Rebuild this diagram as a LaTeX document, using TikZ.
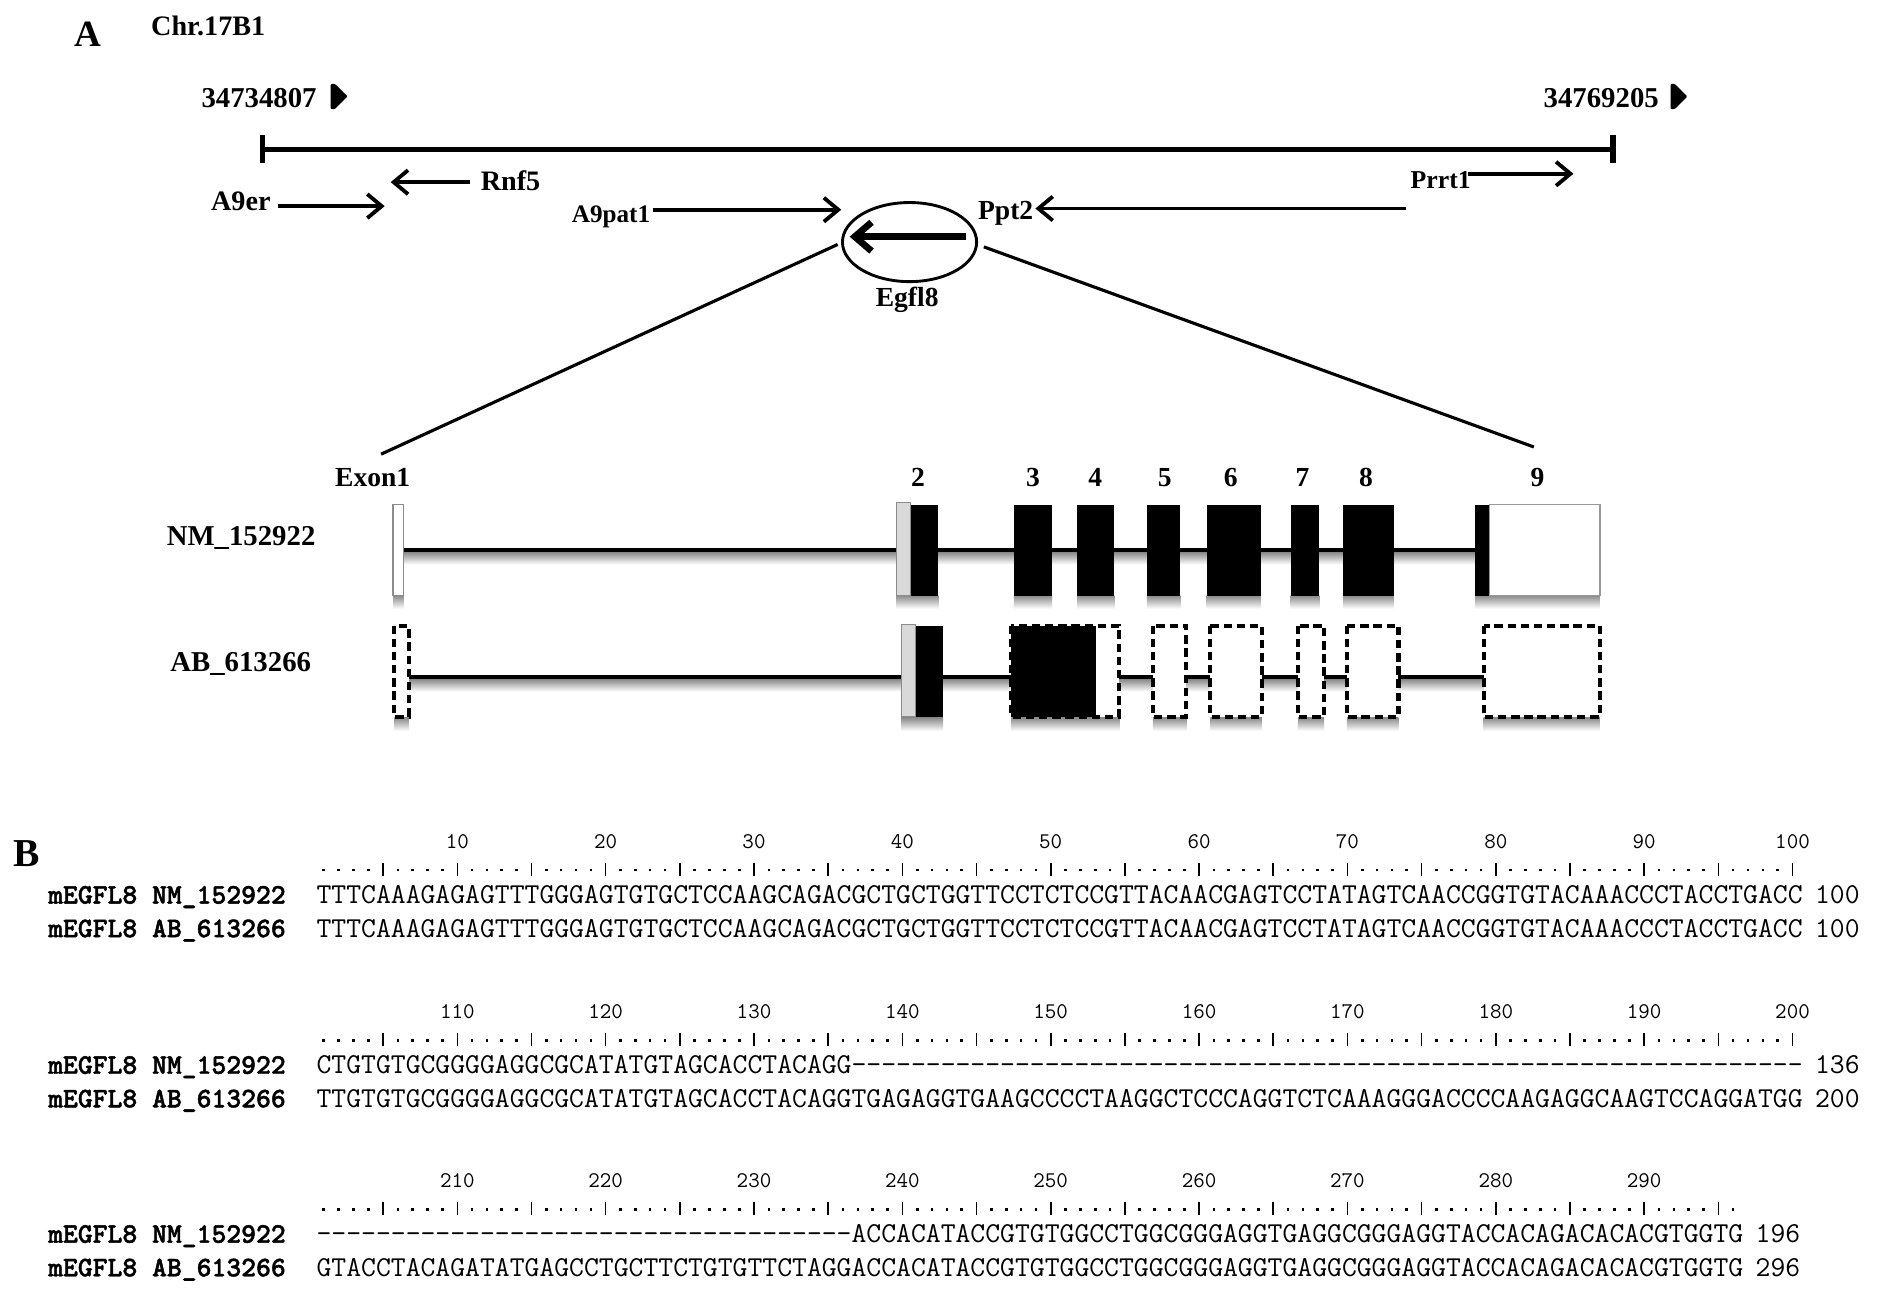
\documentclass[tikz,border=0pt]{standalone}
\usepackage{fontspec}
\setmainfont{Liberation Serif}
\newfontfamily\labmono{lmmonolt10-bold.otf}[FakeBold=1.6]
\ExplSyntaxOn
\cs_new:Npn \seqrep #1#2 { \prg_replicate:nn {#1} {#2} }
\ExplSyntaxOff
\usetikzlibrary{arrows.meta,shapes.geometric}
\tikzset{
  lab/.style={inner sep=0pt, font=\fontsize{#1}{#1}\selectfont\bfseries},
  lab/.default=24,
  gene/.style={line width=3.2pt, -{Straight Barb[length=12pt,width=20pt]}},
  chrom/.style={line width=4.5pt},
  zoomline/.style={line width=2.6pt},
  intron/.style={line width=4pt},
  exblack/.style={fill=black},
  exdash/.style={draw=black, fill=white, line width=3.4pt, dash pattern=on 7pt off 4pt},
  shad/.style={top color=black!45, bottom color=white, draw=none},
  seq/.style={inner sep=0pt, font=\fontsize{24.08}{26}\ttfamily},
  seqlab/.style={inner sep=0pt, font=\fontsize{23.6}{26}\labmono},
  rnum/.style={inner sep=0pt, font=\fontsize{18.67}{20}\ttfamily},
  flag/.style={fill=black, rounded corners=0.8pt},
}
\newcommand\gapdash{-\kern0pt}
\begin{document}
\begin{tikzpicture}[x=1pt,y=-1pt]
\useasboundingbox[fill=white] (0,0) rectangle (1568,1088);

% ---------------- Panel A ----------------
\node[lab=31, anchor=base west] (pA) at (62,39) {A};
\node[lab=23.5, anchor=base west] (chr) at (126,30) {Chr.17B1};
\node[lab=24, anchor=base west] (pstart) at (168,90) {34734807};
\fill[flag] (276,70) -- (279.5,70) -- (290,80.5) -- (279.5,91) -- (276,91) -- cycle;
\node[lab=24, anchor=base west] (pend) at (1288,90) {34769205};
\fill[flag] (1394,70) -- (1397.5,70) -- (1408,80.5) -- (1397.5,91) -- (1394,91) -- cycle;

\coordinate (cl) at (219,124.5);
\coordinate (cr) at (1346,124.5);
\draw[chrom] (cl) -- (cr);
\draw[chrom] (219,113) -- (219,136);
\draw[chrom] (1346,113) -- (1346,136);

\node[lab=23.5, anchor=base west] (a9er) at (176,176) {A9er};
\coordinate (a9erS) at (232,172); \coordinate (a9erE) at (321,172);
\draw[gene] (a9erS) -- (a9erE);

\node[lab=23.5, anchor=base west] (rnf5) at (401,159) {Rnf5};
\coordinate (rnf5S) at (392,152); \coordinate (rnf5E) at (326,152);
\draw[gene] (rnf5S) -- (rnf5E);

\node[lab=21, anchor=base west] (a9pat1) at (477,186) {A9pat1};
\coordinate (a9patS) at (545,175); \coordinate (a9patE) at (702,175);
\draw[gene] (a9patS) -- (a9patE);

\node[lab=23, anchor=base west] (ppt2) at (816,183) {Ppt2};
\coordinate (ppt2S) at (1173,174); \coordinate (ppt2E) at (864,174);
\draw[gene] (ppt2S) -- (ppt2E);

\node[lab=21.5, anchor=base west] (prrt1) at (1177,157) {Prrt1};
\coordinate (prrtS) at (1225,145); \coordinate (prrtE) at (1313,145);
\draw[gene] (prrtS) -- (prrtE);

\node[draw, ellipse, line width=2.4pt, minimum width=112pt, minimum height=66pt, inner sep=0pt] (egc) at (759,202) {};
\coordinate (egS) at (806,197.5); \coordinate (egE) at (709,197.5);
\draw[line width=5.6pt, -{Straight Barb[length=14pt,width=24pt]}] (egS) -- (egE);
\node[lab=23, anchor=base] (egfl8) at (757,256) {Egfl8};

\coordinate (zl1) at (699,204); \coordinate (zl2) at (318,379);
\coordinate (zr1) at (821,206); \coordinate (zr2) at (1280,373);
\draw[zoomline] (zl1) -- (zl2);
\draw[zoomline] (zr1) -- (zr2);

% exon labels
\node[lab=23, anchor=base] (e1) at (311,406) {Exon1};
\node[lab=23, anchor=base] (e2) at (766,406) {2};
\node[lab=23, anchor=base] (e3) at (862,406) {3};
\node[lab=23, anchor=base] (e4) at (914,406) {4};
\node[lab=23, anchor=base] (e5) at (972,406) {5};
\node[lab=23, anchor=base] (e6) at (1027,406) {6};
\node[lab=23, anchor=base] (e7) at (1087,406) {7};
\node[lab=23, anchor=base] (e8) at (1140,406) {8};
\node[lab=23, anchor=base] (e9) at (1283,406) {9};

\node[lab=24, anchor=base west] (nmlab) at (139,455) {NM\_152922};
\node[lab=24, anchor=base west] (ablab) at (142,560) {AB\_613266};

% row 1 shadows
\shade[shad] (337,461) rectangle (1231,471);
\foreach \a/\b in {328/337,748/783,846/878,899/930,957/985,1007/1052,1077/1101,1121/1163,1231/1335}
  \shade[shad] (\a,497) rectangle (\b,508);
% row 1 intron line
\draw[intron] (337,459) -- (1231,459);
% row 1 exons
\filldraw[fill=white, draw=black!45, line width=1pt] (328,421) rectangle (337,497);
\filldraw[fill=black!15, draw=black!45, line width=1pt] (748,419) rectangle (760,497);
\fill[exblack] (760,421) rectangle (783,497);
\foreach \a/\b in {846/878,899/930,957/985,1007/1052,1077/1101,1121/1163}
  \fill[exblack] (\a,421) rectangle (\b,497);
\fill[exblack] (1231,421) rectangle (1243,497);
\filldraw[fill=white, draw=black!40, line width=1.2pt] (1243,421) rectangle (1335,497);

% row 2 shadows
\shade[shad] (341,567) rectangle (1238,577);
\foreach \a/\b in {329/341,752/787,844/934,962/990,1010/1053,1083/1105,1124/1167,1238/1335}
  \shade[shad] (\a,599) rectangle (\b,610);
% row 2 intron line
\draw[intron] (341,565) -- (1238,565);
% row 2 exons
\path[exdash] (329,522) rectangle (341,598);
\filldraw[fill=black!15, draw=black!45, line width=1pt] (752,521) rectangle (764,598);
\fill[exblack] (764,522) rectangle (787,598);
\path[exdash] (844,522) rectangle (934,598);
\fill[exblack] (844,522) rectangle (915,598);
\foreach \a/\b in {962/990,1010/1053,1083/1105,1124/1167,1238/1335}
  \path[exdash] (\a,522) rectangle (\b,598);

% ---------------- Panel B ----------------
\node[lab=33, anchor=base west] (pB) at (11,723) {B};

\foreach \blk/\yo/\ncol in {0/0/100, 1/142/100, 2/283/96} {
  \foreach \c in {1,...,\ncol} {
    \pgfmathsetmacro\xx{264+(\c-0.5)*12.38}
    \pgfmathtruncatemacro\m{mod(\c,5)}
    \ifnum\m=0
      \draw[line width=1.3pt] (\xx,720+\yo) -- (\xx,731+\yo);
    \else
      \fill (\xx-1.1,725+\yo) rectangle (\xx+1.1,727.2+\yo);
    \fi
  }
  \pgfmathtruncatemacro\nk{\ncol/10}
  \foreach \k in {1,...,\nk} {
    \pgfmathtruncatemacro\val{10*\k+100*\blk}
    \node[rnum, anchor=base] (num-\blk-\k) at ({264+(10*\k-0.5)*12.38}, 708+\yo) {\val};
  }
  \node[seqlab, anchor=base west] (lnm-\blk) at (40,754+\yo) {mEGFL8 NM\_152922};
  \node[seqlab, anchor=base west] (lab-\blk) at (40,782+\yo) {mEGFL8 AB\_613266};
}

% block 1
\node[seq, anchor=base west] (s1a) at (264,754) {TTTCAAAGAGAGTTTGGGAGTGTGCTCCAAGCAGACGCTGCTGGTTCCTCTCCGTTACAACGAGTCCTATAGTCAACCGGTGTACAAACCCTACCTGACC};
\node[seq, anchor=base west] (s1b) at (264,782) {TTTCAAAGAGAGTTTGGGAGTGTGCTCCAAGCAGACGCTGCTGGTTCCTCTCCGTTACAACGAGTCCTATAGTCAACCGGTGTACAAACCCTACCTGACC};
\node[seq, anchor=base west] (c1a) at (1514.4,754) {100};
\node[seq, anchor=base west] (c1b) at (1514.4,782) {100};

% block 2
\node[seq, anchor=base west] (s2a) at (264,896) {CTGTGTGCGGGGAGGCGCATATGTAGCACCTACAGG\seqrep{64}{\gapdash}};
\node[seq, anchor=base west] (s2b) at (264,924) {TTGTGTGCGGGGAGGCGCATATGTAGCACCTACAGGTGAGAGGTGAAGCCCCTAAGGCTCCCAGGTCTCAAAGGGACCCCAAGAGGCAAGTCCAGGATGG};
\node[seq, anchor=base west] (c2a) at (1514.4,896) {136};
\node[seq, anchor=base west] (c2b) at (1514.4,924) {200};

% block 3
\node[seq, anchor=base west] (s3a) at (264,1037) {\seqrep{36}{\gapdash}ACCACATACCGTGTGGCCTGGCGGGAGGTGAGGCGGGAGGTACCACAGACACACGTGGTG};
\node[seq, anchor=base west] (s3b) at (264,1065) {GTACCTACAGATATGAGCCTGCTTCTGTGTTCTAGGACCACATACCGTGTGGCCTGGCGGGAGGTGAGGCGGGAGGTACCACAGACACACGTGGTG};
\node[seq, anchor=base west] (c3a) at (1464.9,1037) {196};
\node[seq, anchor=base west] (c3b) at (1464.9,1065) {296};
\end{tikzpicture}
\end{document}
